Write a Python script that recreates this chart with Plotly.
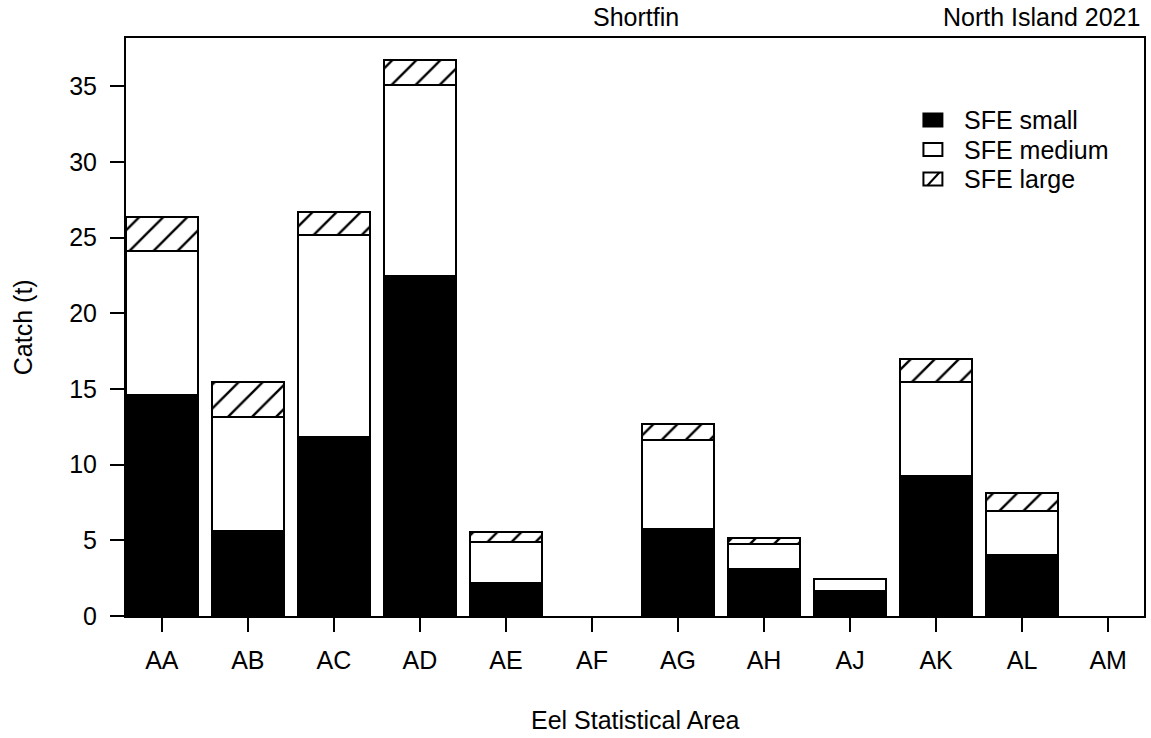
import plotly.graph_objects as go

# Eel statistical areas and catch (t) by size grade
areas = ["AA", "AB", "AC", "AD", "AE", "AF", "AG", "AH", "AJ", "AK", "AL", "AM"]
sfe_small = [14.62, 5.60, 11.82, 22.50, 2.16, 0, 5.76, 3.13, 1.68, 9.22, 4.04, 0]
sfe_medium = [9.53, 7.53, 13.35, 12.57, 2.76, 0, 5.89, 1.66, 0.77, 6.24, 2.91, 0]
sfe_large = [2.25, 2.33, 1.56, 1.65, 0.66, 0, 1.03, 0.37, 0.02, 1.52, 1.19, 0]
y_ticks = [0, 5, 10, 15, 20, 25, 30, 35]

FONT = "Liberation Sans, Arial, sans-serif"
FS = 25
LW = 2

# barplot-style positions: width 1, space 0.2
xpos = [0.7 + 1.2 * i for i in range(len(areas))]


def outline(vals):
    # no outline for empty segments
    return dict(color="black", width=[LW if v > 0 else 0 for v in vals])


fig = go.Figure()
fig.add_trace(go.Bar(x=xpos, y=sfe_small, width=1.0, name="SFE small",
                     marker=dict(color="black", line=outline(sfe_small))))
fig.add_trace(go.Bar(x=xpos, y=sfe_medium, width=1.0, name="SFE medium",
                     marker=dict(color="white", line=outline(sfe_medium))))
fig.add_trace(go.Bar(x=xpos, y=sfe_large, width=1.0, name="SFE large",
                     marker=dict(color="white", line=outline(sfe_large),
                                 pattern=dict(shape="/", fgcolor="#000000", bgcolor="white",
                                              fgopacity=1, fillmode="replace",
                                              size=17, solidity=0.14))))

W, H = 1151, 738
ml, mr, mt, mb = 126, 5, 38, 122
pw, ph = W - ml - mr, H - mt - mb


def px(x):
    return (x - ml) / pw


def py(y):
    return (H - mb - y) / ph


fig.update_layout(
    width=W, height=H, barmode="stack", showlegend=False,
    margin=dict(l=ml, r=mr, t=mt, b=mb, pad=0),
    plot_bgcolor="white", paper_bgcolor="white",
    font=dict(family=FONT, size=FS, color="black"),
    bargap=0,
)
fig.update_xaxes(range=[0.2, 14.4], tickmode="array", tickvals=xpos, ticktext=areas,
                 ticks="outside", ticklen=14, tickwidth=LW, tickcolor="black",
                 showline=True, linecolor="black", linewidth=LW, mirror=True,
                 showgrid=False, zeroline=False, ticklabelstandoff=7)
fig.update_yaxes(range=[0, 38.2], tickmode="array", tickvals=y_ticks,
                 ticktext=[str(v) for v in y_ticks],
                 ticks="outside", ticklen=14, tickwidth=LW, tickcolor="black",
                 showline=True, linecolor="black", linewidth=LW, mirror=True,
                 showgrid=False, zeroline=False, ticklabelstandoff=8)

annots = [
    dict(text="Catch (t)", x=px(23), y=0.5, textangle=-90, xanchor="center", yanchor="middle"),
    dict(text="Eel Statistical Area", x=px(636), y=py(720), xanchor="center", yanchor="middle"),
    dict(text="Shortfin", x=px(637), y=py(17), xanchor="center", yanchor="middle"),
    dict(text="North Island 2021", x=px(1144), y=py(17), xanchor="right", yanchor="middle"),
]
# legend labels
legend_rows = [120, 149.5, 179]
legend_names = ["SFE small", "SFE medium", "SFE large"]
for yy, name in zip(legend_rows, legend_names):
    annots.append(dict(text=name, x=px(964), y=py(yy), xanchor="left", yanchor="middle"))

fig.update_layout(annotations=[dict(a, xref="paper", yref="paper", showarrow=False,
                                    font=dict(family=FONT, size=FS, color="black"))
                               for a in annots])

# legend keys
shapes = []
bx0, bx1 = px(925), px(944)
fills = ["black", "white", "white"]
for yy, fc in zip(legend_rows, fills):
    shapes.append(dict(type="rect", xref="paper", yref="paper", x0=bx0, x1=bx1,
                       y0=py(yy + 6.5), y1=py(yy - 6.5), fillcolor=fc,
                       line=dict(color="black", width=LW)))
yy = legend_rows[2]
shapes.append(dict(type="line", xref="paper", yref="paper", x0=px(929), x1=px(941),
                   y0=py(yy + 6.5), y1=py(yy - 6.5), line=dict(color="black", width=LW)))
fig.update_layout(shapes=shapes)

fig.write_html("out.html")
